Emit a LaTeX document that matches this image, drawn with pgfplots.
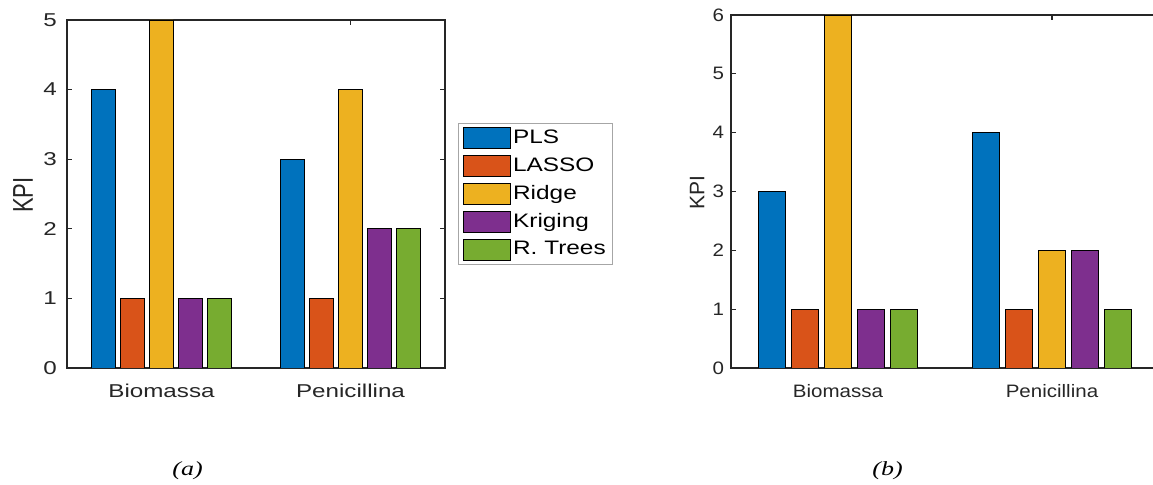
\documentclass[border=0pt]{standalone}
\usepackage{graphicx}
\usepackage{fontspec}
\setmainfont{Liberation Sans}
\newfontfamily\lfont[FakeStretch=1.3]{Liberation Sans}
\newfontfamily\legfont[FakeStretch=1.25]{Liberation Sans}
\newfontfamily\rfont[FakeStretch=1.14]{Liberation Sans}
\newfontfamily\capfont[FakeStretch=1.3]{Liberation Serif}
\usepackage{pgfplots}
\pgfplotsset{compat=1.18}
\definecolor{cPLS}{HTML}{0072BD}
\definecolor{cLASSO}{HTML}{D95319}
\definecolor{cRidge}{HTML}{EDB120}
\definecolor{cKrig}{HTML}{7E2F8E}
\definecolor{cTree}{HTML}{77AC30}
\definecolor{axcol}{HTML}{262626}
\pgfplotsset{
  mybars/.style={
    scale only axis,
    xmin=0.5, xmax=2.5, ymin=0,
    xtick={1,2}, xticklabels={Biomassa,Penicillina},
    tick align=inside,
    major tick length=2.5pt,
    axis line style={axcol, line width=0.6pt},
    major tick style={axcol, line width=0.6pt},
    /pgf/number format/assume math mode=true,
    tick label style={text=axcol},
    label style={text=axcol},
    every axis plot/.append style={ybar, bar width=0.125, bar shift=0pt, draw=black, line width=0.4pt},
  },
  leg/.style={legend image code/.code={\draw[##1] (0pt,-5.25pt) rectangle (23.5pt,5.25pt);}},
}
\begin{document}
\begin{tikzpicture}
\path[use as bounding box] (0,0) rectangle (576.5pt,242.5pt);
% ---------- (a)
\begin{axis}[mybars,
  at={(33.5pt,58.5pt)}, anchor=south west,
  width=189pt, height=174pt,
  ymax=5, ytick={0,1,2,3,4,5},
  tick label style={font=\lfont\fontsize{9.3}{11}\selectfont},
  xticklabel style={yshift=-4.5pt},
  yticklabel style={xshift=-1.5pt},
  ylabel={\scalebox{1}[1.3]{KPI}},
  ylabel style={font=\fontsize{11}{13}\selectfont, at={(axis description cs:-0.116,0.497)}, anchor=center},
  legend style={at={(axis description cs:1.034,0.704)}, anchor=north west,
    draw=gray!70, line width=0.5pt, font=\legfont\fontsize{9.75}{11}\selectfont,
    row sep=2pt, column sep=0pt, inner xsep=2.5pt, inner ysep=1.5pt,
    nodes={inner xsep=1pt, inner ysep=1.75pt}},
  legend cell align=left,
]
\addplot[leg, fill=cPLS]   coordinates {(0.692,4) (1.692,3)};
\addplot[leg, fill=cLASSO] coordinates {(0.846,1) (1.846,1)};
\addplot[leg, fill=cRidge] coordinates {(1.000,5) (2.000,4)};
\addplot[leg, fill=cKrig]  coordinates {(1.154,1) (2.154,2)};
\addplot[leg, fill=cTree]  coordinates {(1.308,1) (2.308,2)};
\legend{PLS,LASSO,Ridge,Kriging,R. Trees}
\end{axis}
% ---------- (b)
\begin{axis}[mybars,
  at={(365.5pt,58.5pt)}, anchor=south west,
  width=214pt, height=176.5pt,
  ymax=6, ytick={0,1,2,3,4,5,6},
  tick label style={font=\rfont\fontsize{9}{11}\selectfont},
  xticklabel style={yshift=-4.5pt},
  ylabel={KPI},
  ylabel style={font=\fontsize{10.5}{13}\selectfont, at={(axis description cs:-0.079,0.496)}, anchor=center},
]
\addplot[fill=cPLS]   coordinates {(0.692,3) (1.692,4)};
\addplot[fill=cLASSO] coordinates {(0.846,1) (1.846,1)};
\addplot[fill=cRidge] coordinates {(1.000,6) (2.000,2)};
\addplot[fill=cKrig]  coordinates {(1.154,1) (2.154,2)};
\addplot[fill=cTree]  coordinates {(1.308,1) (2.308,1)};
\end{axis}
\node[font=\capfont\itshape\fontsize{10}{11}\selectfont] at (93.75pt,7pt) {(a)};
\node[font=\capfont\itshape\fontsize{10}{11}\selectfont] at (443.75pt,7pt) {(b)};
\end{tikzpicture}
\end{document}
